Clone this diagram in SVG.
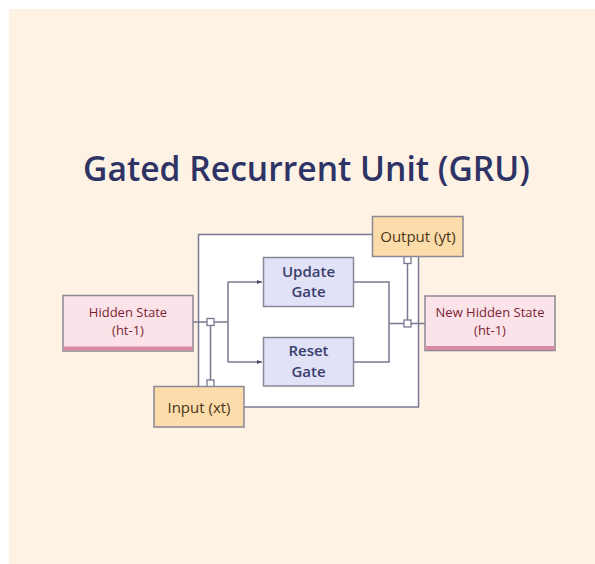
<svg xmlns="http://www.w3.org/2000/svg" width="595" height="564" viewBox="0 0 595 564">
<defs>
<style>
.ln{fill:none;stroke:#7a7890;stroke-width:1.5}
.box{stroke:#8a8796;stroke-width:1.5}
.pink{fill:#fce3e9}
.orange{fill:#fcdcaa}
.lav{fill:#e1e1f7}
.t{font-family:"Open Sans","Noto Sans",sans-serif;text-anchor:middle}
.tp{fill:#7a1f33;font-size:13px}
.to{fill:#4a3418;font-size:15px}
.tg{fill:#3a3e6d;font-size:15px;font-weight:600}
.sq{fill:#ffffff;stroke:#7a7890;stroke-width:1.3}
</style>
<marker id="ah" viewBox="0 0 10 10" refX="10" refY="5" markerWidth="5" markerHeight="5" orient="auto" markerUnits="userSpaceOnUse">
<path d="M0,1 L10,5 L0,9 Z" fill="#4a4866"/>
</marker>
</defs>
<rect x="0" y="0" width="595" height="564" fill="#ffffff"/>
<rect x="9" y="9" width="586" height="555" fill="#fdf2e4"/>
<text x="306.5" y="181" class="t" font-size="34.5" font-weight="600" fill="#2e3366" textLength="447" lengthAdjust="spacingAndGlyphs">Gated Recurrent Unit (GRU)</text>

<g id="frame">
<rect x="198.5" y="234.5" width="220" height="172.5" fill="#ffffff" stroke="#7a7890" stroke-width="1.5"/>
</g>

<g id="connectors">
<path class="ln" d="M193,322 H228"/>
<path class="ln" d="M228,282 V362"/>
<path class="ln" d="M228,282 H262" marker-end="url(#ah)"/>
<path class="ln" d="M228,362 H262" marker-end="url(#ah)"/>
<path class="ln" d="M210.5,322 V383"/>
<path class="ln" d="M353,282 H389 V362 H353"/>
<path class="ln" d="M389,323.5 H425"/>
<path class="ln" d="M407.5,260 V323.5"/>
<rect class="sq" x="207" y="318.5" width="7" height="7"/>
<rect class="sq" x="207" y="380" width="7" height="7"/>
<rect class="sq" x="404" y="320" width="7" height="7"/>
<rect class="sq" x="404" y="256.5" width="7" height="7"/>
</g>

<g id="hidden-state">
<rect class="box pink" x="63" y="295.5" width="130" height="55.5"/>
<rect x="63.5" y="346.5" width="129" height="4" fill="#d98aa0"/>
<text class="t tp" x="128" y="317">Hidden State</text>
<text class="t tp" x="128" y="335">(ht-1)</text>
</g>

<g id="input">
<rect class="box orange" x="154" y="386.5" width="90" height="40.5"/>
<text class="t to" x="199" y="412.5">Input (xt)</text>
</g>

<g id="output">
<rect class="box orange" x="372.5" y="216.5" width="90.5" height="40"/>
<text class="t to" x="418" y="242">Output (yt)</text>
</g>

<g id="update-gate">
<rect class="box lav" x="263.5" y="257.5" width="90" height="49"/>
<text class="t tg" x="308.5" y="277">Update</text>
<text class="t tg" x="308.5" y="297">Gate</text>
</g>

<g id="reset-gate">
<rect class="box lav" x="263.5" y="337.5" width="90" height="48.5"/>
<text class="t tg" x="308.5" y="356">Reset</text>
<text class="t tg" x="308.5" y="377">Gate</text>
</g>

<g id="new-hidden-state">
<rect class="box pink" x="425" y="296" width="130" height="54.5"/>
<rect x="425.5" y="346" width="129" height="4" fill="#d98aa0"/>
<text class="t tp" x="490" y="316.5">New Hidden State</text>
<text class="t tp" x="490" y="335">(ht-1)</text>
</g>
</svg>
